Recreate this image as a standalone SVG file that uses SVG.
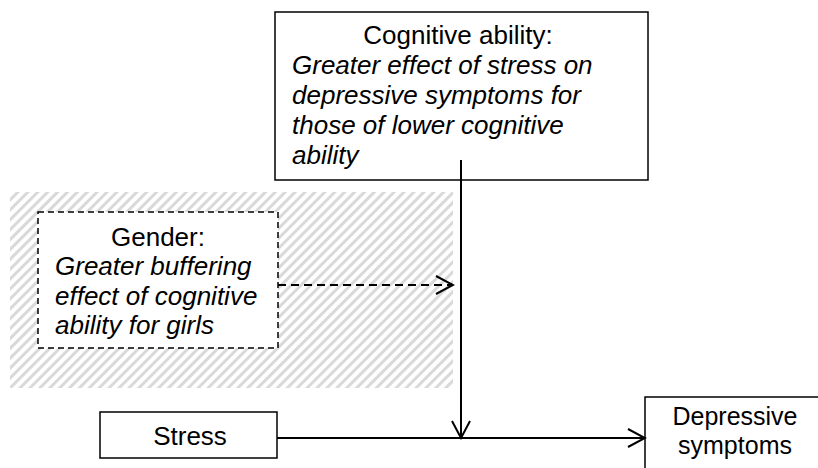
<svg xmlns="http://www.w3.org/2000/svg" width="818" height="468" viewBox="0 0 818 468">
<style>
.t{font-family:"Liberation Sans",Arial,sans-serif;font-size:26px;fill:#000}
.i{font-style:italic}
.box{fill:#fff;stroke:#000;stroke-width:1.5}
.dbox{fill:#fff;stroke:#000;stroke-width:1.5;stroke-dasharray:6 4}
.ln{fill:none;stroke:#000;stroke-width:2}
</style>
<defs>
<pattern id="hatch" width="7" height="7" patternUnits="userSpaceOnUse" patternTransform="rotate(45)">
<rect width="3" height="7" fill="#d9d9d9"/>
</pattern>
<marker id="arr" viewBox="0 0 20 20" refX="18" refY="10" markerWidth="20" markerHeight="20" markerUnits="userSpaceOnUse" orient="auto">
<path d="M1 1 L18 10 L1 19" fill="none" stroke="#000" stroke-width="2"/>
</marker>
</defs>
<rect x="10" y="192" width="443" height="196" fill="url(#hatch)"/>
<g id="cognitive">
<rect class="box" x="275" y="12" width="373" height="168"/>
<text class="t" x="458" y="44" text-anchor="middle">Cognitive ability:</text>
<text class="t i" x="292" y="74">Greater effect of stress on</text>
<text class="t i" x="292" y="104">depressive symptoms for</text>
<text class="t i" x="292" y="134">those of lower cognitive</text>
<text class="t i" x="292" y="164">ability</text>
</g>
<g id="gender">
<rect class="dbox" x="38" y="212" width="240" height="136"/>
<text class="t" x="158" y="246" text-anchor="middle">Gender:</text>
<text class="t i" x="55" y="275">Greater buffering</text>
<text class="t i" x="55" y="305">effect of cognitive</text>
<text class="t i" x="55" y="334">ability for girls</text>
</g>
<g id="stress">
<rect class="box" x="100" y="412" width="177" height="46"/>
<text class="t" x="190" y="445" text-anchor="middle">Stress</text>
</g>
<g id="depressive">
<rect class="box" x="645" y="397" width="190" height="90"/>
<text class="t" x="735" y="425" text-anchor="middle" style="font-size:25px">Depressive</text>
<text class="t" x="735" y="454" text-anchor="middle" style="font-size:25px">symptoms</text>
</g>
<g id="connectors">
<line class="ln" x1="461" y1="160" x2="461" y2="438" marker-end="url(#arr)"/>
<line class="ln" x1="277" y1="438" x2="645" y2="438" marker-end="url(#arr)"/>
<line class="ln" x1="278" y1="285" x2="453" y2="285" stroke-dasharray="8 5" marker-end="url(#arr)"/>
</g>
</svg>
